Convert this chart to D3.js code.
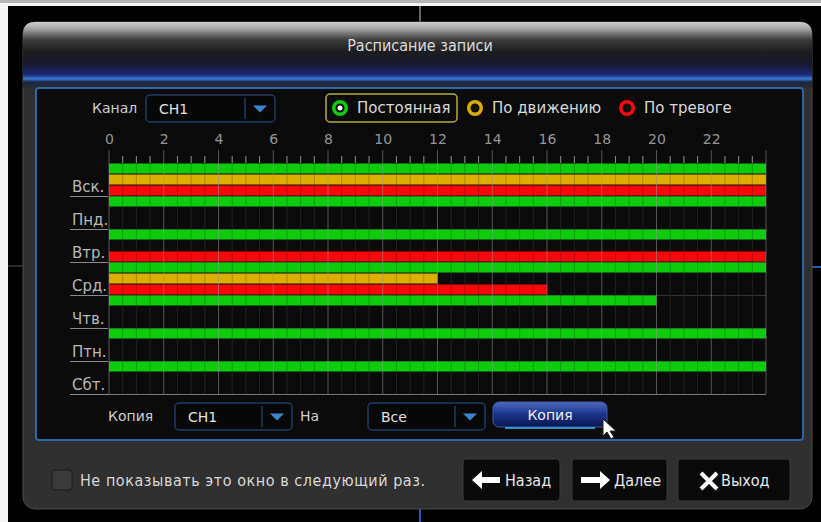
<!DOCTYPE html>
<html>
<head>
<meta charset="utf-8">
<script src="https://cdn.jsdelivr.net/npm/d3@7"></script>
<style>
  body { margin: 0; background: #000; }
  text { font-family: "DejaVu Sans", sans-serif; }
  .cond { font-family: "DejaVu Sans Condensed", "DejaVu Sans", sans-serif; }
</style>
</head>
<body>
<div id="chart"></div>
<script>
// schedule data: [start hour, end hour] per day, null = no recording
var days = ["Вск.", "Пнд.", "Втр.", "Срд.", "Чтв.", "Птн.", "Сбт."];
var modes = ["Постоянная", "По движению", "По тревоге"];
var modeColors = ["#0ccc0c", "#dcae00", "#f80808"];
var constantRec = [[0, 24], [0, 24], [0, 24], [0, 24], [0, 20], [0, 24], [0, 24]];
var motionRec   = [[0, 24], null, null, [0, 12], null, null, null];
var alarmRec    = [[0, 24], null, [0, 24], [0, 16], null, null, null];
var hourTicks = [0, 2, 4, 6, 8, 10, 12, 14, 16, 18, 20, 22];

var W = 821, H = 522;

var svg = d3.select("#chart").append("svg")
    .attr("width", W)
    .attr("height", H);

var defs = svg.append("defs");

// title bar gradient
var tg = defs.append("linearGradient").attr("id", "titleGrad")
    .attr("x1", 0).attr("y1", 0).attr("x2", 0).attr("y2", 1);
[[0, "#cfcfcf"], [0.1, "#a4a4a4"], [0.27, "#3c3c3c"], [0.45, "#1d1d1f"],
 [0.64, "#17172e"], [0.8, "#1b2a78"], [0.86, "#3c7ad4"], [0.91, "#1a2648"], [1, "#2c2c2c"]]
  .forEach(function(s) { tg.append("stop").attr("offset", s[0]).attr("stop-color", s[1]); });

// copy button gradient
var bg = defs.append("linearGradient").attr("id", "btnGrad")
    .attr("x1", 0).attr("y1", 0).attr("x2", 0).attr("y2", 1);
[[0, "#4a6ac0"], [0.5, "#1c3488"], [1, "#0a1650"]]
  .forEach(function(s) { bg.append("stop").attr("offset", s[0]).attr("stop-color", s[1]); });

// outer screen frame
svg.append("rect").attr("width", W).attr("height", H).attr("fill", "#000");
svg.append("rect").attr("width", W).attr("height", 3).attr("fill", "#b4b4b4");
svg.append("rect").attr("y", 3).attr("width", W).attr("height", 3).attr("fill", "#f4f4f4");
svg.append("rect").attr("y", 3).attr("width", 8).attr("height", H).attr("fill", "#f4f4f4");
svg.append("line").attr("x1", 420).attr("x2", 420).attr("y1", 6).attr("y2", 22)
    .attr("stroke", "#666").attr("stroke-width", 2);
svg.append("line").attr("x1", 420).attr("x2", 420).attr("y1", 508).attr("y2", H)
    .attr("stroke", "#2a5ab0").attr("stroke-width", 2);
svg.append("line").attr("x1", 8).attr("x2", 23).attr("y1", 266).attr("y2", 266)
    .attr("stroke", "#555");
svg.append("line").attr("x1", 812).attr("x2", W).attr("y1", 267).attr("y2", 267)
    .attr("stroke", "#2a5ab0").attr("stroke-width", 2);

// dialog window
svg.append("rect")
    .attr("x", 23).attr("y", 22).attr("width", 789).attr("height", 487)
    .attr("rx", 12)
    .attr("fill", "#303030").attr("stroke", "#4a4a4a");
svg.append("path")
    .attr("d", "M23,88 L23,34 Q23,22 35,22 L800,22 Q812,22 812,34 L812,88 Z")
    .attr("fill", "url(#titleGrad)");
svg.append("text")
    .attr("class", "cond")
    .attr("x", 420).attr("y", 51)
    .attr("text-anchor", "middle")
    .attr("font-size", 16).attr("fill", "#dcdcdc")
    .text("Расписание записи");

// inner panel
svg.append("rect")
    .attr("x", 36).attr("y", 88).attr("width", 767).attr("height", 352)
    .attr("rx", 3)
    .attr("fill", "#0b0b0b").attr("stroke", "#2c68a8").attr("stroke-width", 2);

// dropdown helper
function dropdown(x, y, w, h, label) {
  var g = svg.append("g").attr("transform", "translate(" + x + "," + y + ")");
  g.append("rect").attr("width", w).attr("height", h).attr("rx", 4)
      .attr("fill", "#080808").attr("stroke", "#1e3c66").attr("stroke-width", 1.5);
  g.append("line").attr("x1", w - 30).attr("x2", w - 30).attr("y1", 3).attr("y2", h - 3)
      .attr("stroke", "#1e3c66").attr("stroke-width", 1.5);
  var cx = w - 15, cy = h / 2;
  g.append("path")
      .attr("d", "M" + (cx - 7) + "," + (cy - 3) + " L" + (cx + 7) + "," + (cy - 3) + " L" + cx + "," + (cy + 4) + " Z")
      .attr("fill", "#3a86d0");
  g.append("text").attr("x", 13).attr("y", h / 2 + 5)
      .attr("font-size", 14).attr("fill", "#e0e0e0").text(label);
}

// top controls
svg.append("text").attr("x", 92).attr("y", 113)
    .attr("font-size", 14).attr("fill", "#cfcfcf").text("Канал");
dropdown(146, 95, 129, 27, "CH1");

// legend
svg.append("rect")
    .attr("x", 326).attr("y", 94).attr("width", 131).attr("height", 28).attr("rx", 4)
    .attr("fill", "none").attr("stroke", "#b4ae3c").attr("stroke-width", 1.5);
var legendX = [340, 475, 627];
modes.forEach(function(m, i) {
  var g = svg.append("g").attr("transform", "translate(" + legendX[i] + ",108)");
  g.append("circle").attr("r", 8).attr("fill", modeColors[i]);
  g.append("circle").attr("r", 4.5).attr("fill", "#111");
  if (i === 0) g.append("circle").attr("r", 2.5).attr("fill", "#f4f4f4");
  g.append("text").attr("x", 17).attr("y", 5)
      .attr("font-size", 15).attr("fill", "#d8d8d8").text(m);
});

// schedule grid
var x = d3.scaleLinear().domain([0, 24]).range([109, 766]);
var yDay = d3.scaleBand().domain(days).range([163, 394]);
var yMode = d3.scaleBand().domain(modes).range([0, yDay.bandwidth()]);

var grid = svg.append("g");

// hour labels
grid.append("g")
    .attr("transform", "translate(0,150)")
    .call(d3.axisTop(x).tickValues(hourTicks).tickSize(0).tickPadding(6))
    .call(function(g) {
      g.select(".domain").remove();
      g.selectAll("text").attr("font-size", 14).attr("fill", "#969696")
          .style("font-family", "DejaVu Sans");
    });

// half-hour lines
var halfHours = d3.range(0, 24.01, 0.5);
grid.selectAll(".minor")
  .data(halfHours.filter(function(h) { return h % 2 !== 0; }))
  .enter().append("line")
    .attr("x1", function(d) { return x(d); })
    .attr("x2", function(d) { return x(d); })
    .attr("y1", 157).attr("y2", 394)
    .attr("stroke", "#2a2a2a");
grid.selectAll(".minortick")
  .data(halfHours.filter(function(h) { return h % 2 !== 0; }))
  .enter().append("line")
    .attr("x1", function(d) { return x(d); })
    .attr("x2", function(d) { return x(d); })
    .attr("y1", 156).attr("y2", 163)
    .attr("stroke", "#8a8a8a");

// day separators
grid.selectAll(".sep")
  .data(days)
  .enter().append("line")
    .attr("x1", 109).attr("x2", 766)
    .attr("y1", function(d) { return yDay(d) + yDay.bandwidth() + 0.5; })
    .attr("y2", function(d) { return yDay(d) + yDay.bandwidth() + 0.5; })
    .attr("stroke", "#333");

// bars
var series = [constantRec, motionRec, alarmRec];
series.forEach(function(rec, mi) {
  grid.selectAll(".bar" + mi)
    .data(days.map(function(d, di) { return {day: d, span: rec[di]}; })
      .filter(function(d) { return d.span; }))
    .enter().append("rect")
      .attr("x", function(d) { return x(d.span[0]); })
      .attr("y", function(d) { return yDay(d.day) + yMode(modes[mi]) + 0.5; })
      .attr("width", function(d) { return x(d.span[1]) - x(d.span[0]); })
      .attr("height", yMode.bandwidth() - 1)
      .attr("fill", modeColors[mi]);
});

// faint lines over the bars
grid.selectAll(".over")
  .data(halfHours.filter(function(h) { return h % 2 !== 0; }))
  .enter().append("line")
    .attr("x1", function(d) { return x(d); })
    .attr("x2", function(d) { return x(d); })
    .attr("y1", 163).attr("y2", 394)
    .attr("stroke", "rgba(0,0,0,0.22)");

// major lines every 2 hours
grid.selectAll(".major")
  .data(hourTicks.concat([24]))
  .enter().append("line")
    .attr("x1", function(d) { return x(d); })
    .attr("x2", function(d) { return x(d); })
    .attr("y1", 150).attr("y2", 394)
    .attr("stroke", "rgba(150,150,150,0.55)");

// bottom border
grid.append("line")
    .attr("x1", 70).attr("x2", 766).attr("y1", 394.5).attr("y2", 394.5)
    .attr("stroke", "#777");

// day labels
grid.selectAll(".day")
  .data(days)
  .enter().append("text")
    .attr("x", 72)
    .attr("y", function(d) { return yDay(d) + yDay.bandwidth() - 4; })
    .attr("font-size", 15).attr("fill", "#b8b8b8")
    .text(function(d) { return d; });
grid.selectAll(".dayline")
  .data(days)
  .enter().append("line")
    .attr("x1", 70).attr("x2", 108)
    .attr("y1", function(d) { return yDay(d) + yDay.bandwidth() + 0.5; })
    .attr("y2", function(d) { return yDay(d) + yDay.bandwidth() + 0.5; })
    .attr("stroke", "#8a8a8a");

// copy row
svg.append("text").attr("x", 108).attr("y", 421)
    .attr("font-size", 14).attr("fill", "#cfcfcf").text("Копия");
dropdown(175, 403, 117, 27, "CH1");
svg.append("text").attr("x", 300).attr("y", 421)
    .attr("font-size", 14).attr("fill", "#cfcfcf").text("На");
dropdown(368, 403, 117, 27, "Все");
svg.append("rect")
    .attr("x", 493).attr("y", 402).attr("width", 114).attr("height", 25).attr("rx", 6)
    .attr("fill", "url(#btnGrad)").attr("stroke", "#3c5ca4");
svg.append("line").attr("x1", 505).attr("x2", 595).attr("y1", 428).attr("y2", 428)
    .attr("stroke", "#3ab0f0").attr("stroke-width", 2).attr("opacity", 0.8);
svg.append("text").attr("x", 550).attr("y", 420)
    .attr("text-anchor", "middle")
    .attr("font-size", 14).attr("fill", "#f0f0f0").text("Копия");
// mouse cursor
svg.append("path")
    .attr("d", "M603,419 L603,436 L607,432 L611,439 L614,437 L610,431 L616,431 Z")
    .attr("fill", "#fff").attr("stroke", "#222").attr("stroke-width", 1);

// footer
svg.append("rect")
    .attr("x", 52).attr("y", 470).attr("width", 20).attr("height", 20).attr("rx", 3)
    .attr("fill", "#3a3a3a").attr("stroke", "#1a1a1a");
svg.append("text")
    .attr("class", "cond")
    .attr("x", 80).attr("y", 486)
    .attr("font-size", 16).attr("fill", "#d8d8d8")
    .attr("textLength", 345)
    .text("Не показывать это окно в следующий раз.");

var buttons = [
  {x: 463, w: 97, label: "Назад", icon: "left"},
  {x: 572, w: 95, label: "Далее", icon: "right"},
  {x: 678, w: 112, label: "Выход", icon: "x"}
];
buttons.forEach(function(b) {
  var g = svg.append("g").attr("transform", "translate(" + b.x + ",459)");
  g.append("rect").attr("width", b.w).attr("height", 42).attr("rx", 3)
      .attr("fill", "#0a0a0a").attr("stroke", "#3a3a3a");
  if (b.icon === "left") {
    g.append("path").attr("d", "M9,21 L19,12 L19,18 L37,18 L37,24 L19,24 L19,30 Z").attr("fill", "#fff");
  } else if (b.icon === "right") {
    g.append("path").attr("d", "M38,21 L28,12 L28,18 L9,18 L9,24 L28,24 L28,30 Z").attr("fill", "#fff");
  } else {
    g.append("path").attr("d", "M23,14 L39,30 M39,14 L23,30")
        .attr("stroke", "#fff").attr("stroke-width", 4);
  }
  g.append("text").attr("class", "cond").attr("x", b.icon === "x" ? 43 : 42).attr("y", 27)
      .attr("font-size", 16).attr("fill", "#e8e8e8").text(b.label);
});
</script>
</body>
</html>
